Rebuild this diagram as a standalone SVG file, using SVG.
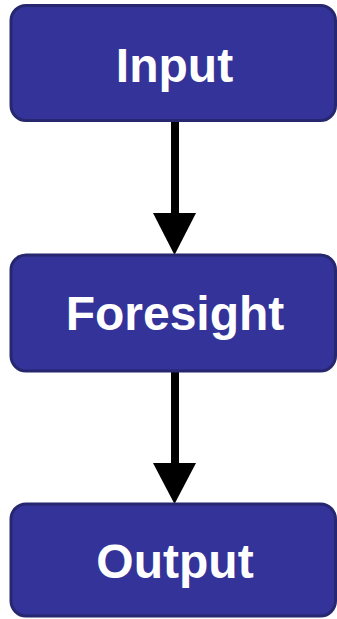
<svg xmlns="http://www.w3.org/2000/svg" width="337" height="619" viewBox="0 0 337 619">
<style>
.box{fill:#333399;stroke:#27276f;stroke-width:3}
.lbl{font-family:"Liberation Sans",Arial,sans-serif;font-weight:bold;font-size:48px;fill:#ffffff;text-anchor:middle}
.edge{stroke:#000;stroke-width:8;fill:none}
.head{fill:#000}
</style>
<g id="connectors">
<line class="edge" x1="175" y1="121" x2="175" y2="214"/>
<path class="head" d="M153,213 L196,213 L174.5,255 Z"/>
<line class="edge" x1="175" y1="371" x2="175" y2="464"/>
<path class="head" d="M153,463 L196,463 L174.5,504 Z"/>
</g>
<g id="input">
<rect class="box" x="11" y="5.5" width="324.5" height="115" rx="15"/>
<text class="lbl" x="174.5" y="82">Input</text>
</g>
<g id="foresight">
<rect class="box" x="11" y="255" width="324.5" height="116" rx="15"/>
<text class="lbl" x="175" y="330">Foresight</text>
</g>
<g id="output">
<rect class="box" x="11" y="504" width="324.5" height="112" rx="15"/>
<text class="lbl" x="175" y="578">Output</text>
</g>
</svg>
